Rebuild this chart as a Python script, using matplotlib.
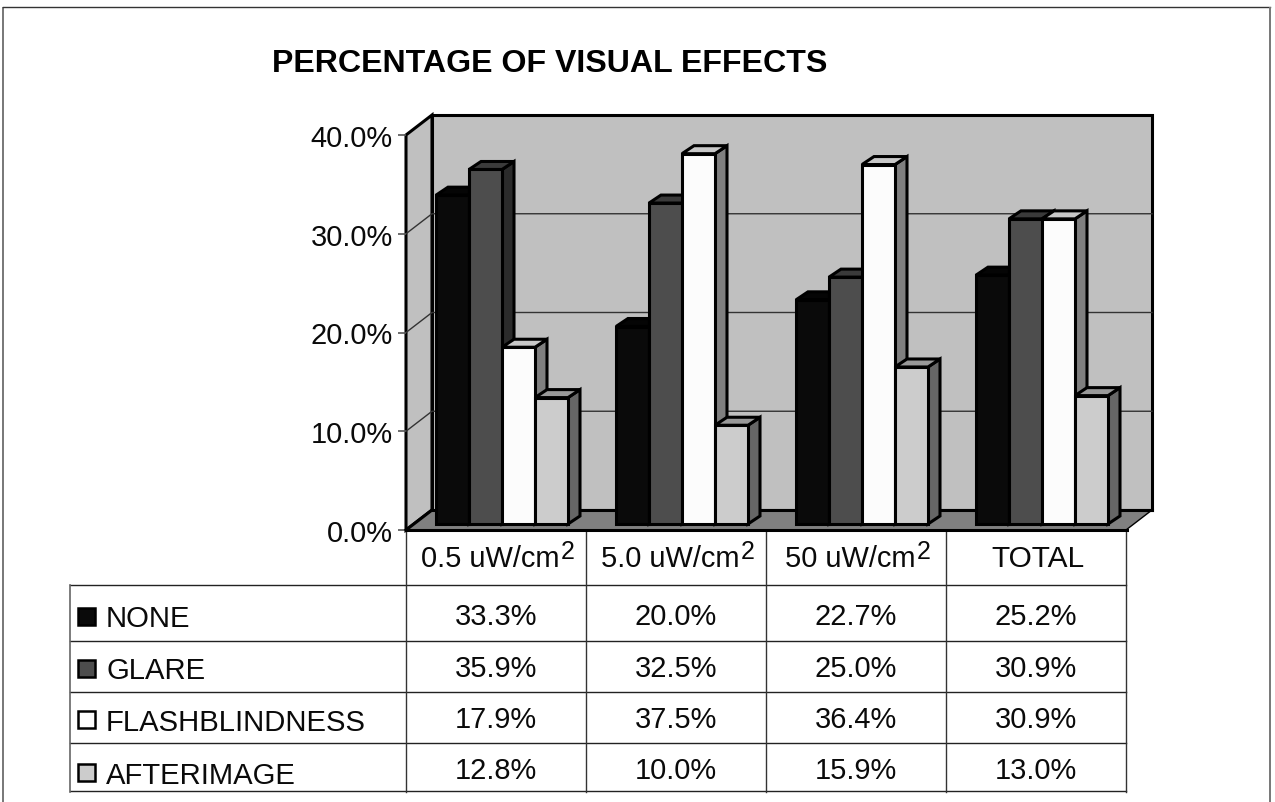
import matplotlib
matplotlib.use("Agg")
import matplotlib.pyplot as plt
from matplotlib.patches import Polygon

plt.rcParams['font.family'] = ['Liberation Sans', 'DejaVu Sans']

title = "PERCENTAGE OF VISUAL EFFECTS"
categories = ["0.5 uW/cm", "5.0 uW/cm", "50 uW/cm", "TOTAL"]
superscripts = ["2", "2", "2", ""]
series_names = ["NONE", "GLARE", "FLASHBLINDNESS", "AFTERIMAGE"]
none_vals = [33.3, 20.0, 22.7, 25.2]
glare_vals = [35.9, 32.5, 25.0, 30.9]
flash_vals = [17.9, 37.5, 36.4, 30.9]
after_vals = [12.8, 10.0, 15.9, 13.0]
series_vals = [none_vals, glare_vals, flash_vals, after_vals]
y_ticks = [0, 10, 20, 30, 40]

front_col = ['#0a0a0a', '#4d4d4d', '#fcfcfc', '#cccccc']
top_col = ['#050505', '#3a3a3a', '#c8c8c8', '#999999']
side_col = ['#050505', '#2b2b2b', '#7f7f7f', '#666666']

W, H = 1275, 803
fig = plt.figure(figsize=(W / 100, H / 100), dpi=100, facecolor='white')

# overlay in pixel coordinates for frame and table
pg = fig.add_axes([0, 0, 1, 1], zorder=1)
pg.set_xlim(0, W); pg.set_ylim(H, 0); pg.axis('off')

L, R, T, B = 406, 1126, 136, 531
ax = fig.add_axes([L / W, 1 - B / H, (R - L) / W, (B - T) / H], zorder=2)
ax.set_xlim(0, 4); ax.set_ylim(0, 40)
ax.patch.set_alpha(0)
for s in ax.spines.values():
    s.set_visible(False)
ax.set_xticks([])
ax.set_yticks(y_ticks)
ax.set_yticklabels([f"{v:.1f}%" for v in y_ticks], fontsize=20.9, color='#0a0a0a')
ax.tick_params(axis='y', length=5.8, width=1.2, color='#555555', pad=3.6)

px = 1 / 180          # data units in x per pixel
py = 40 / 395         # data units in y per pixel
wd_x, wd_y = 26 * px, 20 * py

def poly(pts, fc, ec='black', lw=2.2, z=1):
    ax.add_patch(Polygon(pts, closed=True, facecolor=fc, edgecolor=ec, linewidth=lw,
                         zorder=z, clip_on=False, joinstyle='miter'))

# walls and floor
poly([(0, 0), (wd_x, wd_y), (wd_x, 40 + wd_y), (0, 40)], '#c0c0c0', z=1)
poly([(wd_x, wd_y), (4 + wd_x, wd_y), (4 + wd_x, 40 + wd_y), (wd_x, 40 + wd_y)], '#c0c0c0', z=1)
poly([(0, 0), (wd_x, wd_y), (4 + wd_x, wd_y), (4, 0)], '#808080', lw=1.0, z=1.5)
ax.plot([wd_x, 4 + wd_x], [wd_y, wd_y], color='black', lw=2.2, zorder=1.6, clip_on=False)
ax.plot([0, wd_x], [0, wd_y], color='black', lw=2.2, zorder=1.6, clip_on=False)
ax.plot([0, 4.005], [0, 0], color='black', lw=2.2, zorder=1.6, clip_on=False)

# gridlines
for v in y_ticks[1:-1]:
    ax.plot([0, wd_x, 4 + wd_x], [v, v + wd_y, v + wd_y], color='#333333', lw=1.0,
            zorder=1.2, clip_on=False)

# bars
bar_w = 33 * px
start = 30 * px
base = 6 * py
bd_x, bd_y = 12 * px, 8 * py
z = 3
for g in range(len(categories)):
    for i in range(len(series_names)):
        v = series_vals[i][g]
        x0 = g + start + i * bar_w
        x1 = x0 + bar_w
        y1 = base + v
        poly([(x1, base), (x1 + bd_x, base + bd_y), (x1 + bd_x, y1 + bd_y), (x1, y1)],
             side_col[i], z=z)
        poly([(x0, y1), (x0 + bd_x, y1 + bd_y), (x1 + bd_x, y1 + bd_y), (x1, y1)],
             top_col[i], z=z + 0.1)
        ax.bar(x0, v, width=bar_w, bottom=base, align='edge', color=front_col[i],
               edgecolor='black', linewidth=2.2, zorder=z + 0.2, clip_on=False)
        z += 1

# figure frame
frame = dict(color='#777777', lw=1.4, solid_capstyle='butt')
pg.plot([3, 3], [H, 8], **frame)
pg.plot([3, 1270], [8, 8], color='#333333', lw=1.0)
pg.plot([1270, 1270], [8, H], **frame)

# title
pg.text(272, 72, title, fontsize=23.1, fontweight='bold', color='black', ha='left', va='baseline')

# table lines
cols = [406, 586, 766, 946, 1126]
rows = [586, 642, 693, 744, 792]
for y in rows:
    pg.plot([70, 1126], [y, y], color='#222222', lw=1.0)
for x in cols:
    pg.plot([x, x], [531, 793], color='#333333', lw=1.0)
pg.plot([70, 70], [586, 793], color='#666666', lw=1.2)

# category labels
fs = 20.9
fig.canvas.draw()
rend = fig.canvas.get_renderer()
for g, (c, s) in enumerate(zip(categories, superscripts)):
    cx = (cols[g] + cols[g + 1]) / 2
    if s:
        t = pg.text(cx, 567, c, fontsize=fs, color='#0a0a0a', ha='left', va='baseline')
        t2 = pg.text(cx, 559, s, fontsize=fs * 0.86, color='#0a0a0a', ha='left', va='baseline')
        w1 = t.get_window_extent(rend).width
        w2 = t2.get_window_extent(rend).width
        x0 = cx - (w1 + w2) / 2 + 1
        t.set_x(x0)
        t2.set_x(x0 + w1 + 1)
    else:
        pg.text(cx + 1.5, 567, c, fontsize=fs + 0.6, color='#0a0a0a', ha='center', va='baseline')

# table values and legend
key_top = [609, 661, 712, 765]
legend_base = [627, 679, 731, 784]
value_base = [625, 677, 728, 779]
for i, name in enumerate(series_names):
    pg.add_patch(plt.Rectangle((78, key_top[i]), 17, 17, facecolor=front_col[i], edgecolor='black',
                               linewidth=1.8))
    pg.text(106, legend_base[i], name, fontsize=fs + 0.2, color='#0a0a0a', ha='left', va='baseline')
    for g in range(len(categories)):
        cx = (cols[g] + cols[g + 1]) / 2
        pg.text(cx, value_base[i], f"{series_vals[i][g]:.1f}%", fontsize=fs, color='#0a0a0a',
                ha='center', va='baseline')

fig.savefig('out.png', dpi=100, facecolor='white')
